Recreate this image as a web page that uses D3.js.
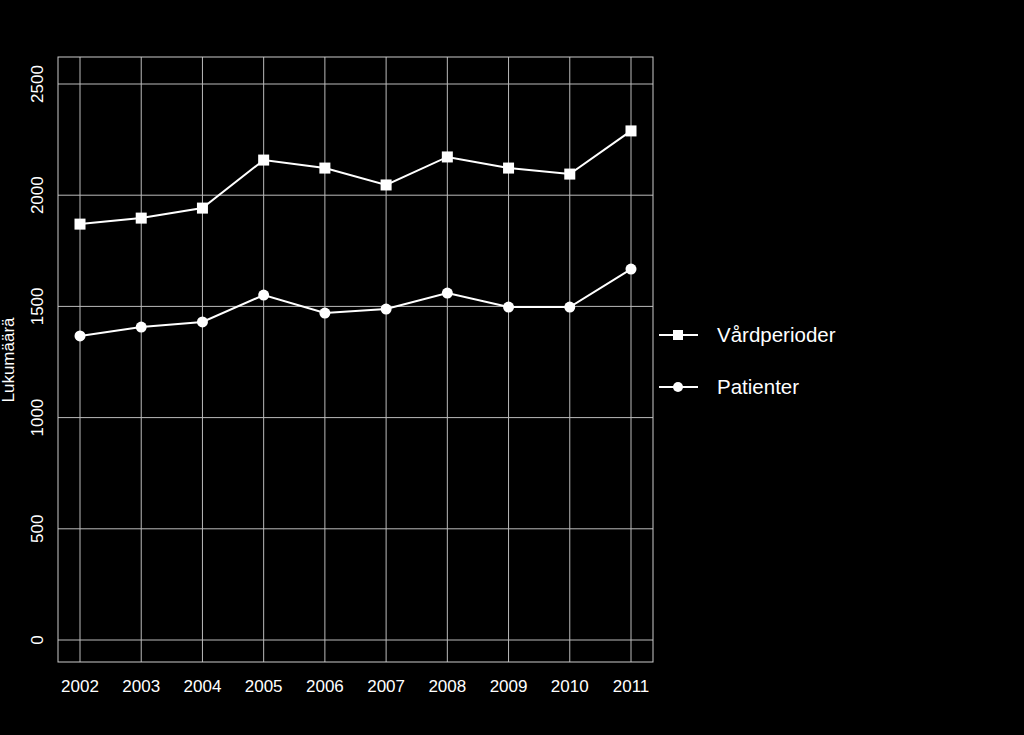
<!DOCTYPE html>
<html><head><meta charset="utf-8">
<script src="https://cdn.jsdelivr.net/npm/d3@7"></script>
<style>body{margin:0;background:#000}</style></head>
<body><svg id="c" width="1024" height="735"></svg>
<script>
const years=[2002,2003,2004,2005,2006,2007,2008,2009,2010,2011];
const vardperioder=[1870,1897,1942,2158,2122,2046,2172,2122,2095,2289];
const patienter=[1367,1407,1430,1551,1470,1488,1560,1497,1497,1668];
const yTicks=[0,500,1000,1500,2000,2500];
const svg=d3.select("#c");
svg.append("rect").attr("width",1024).attr("height",735).attr("fill","#000");
const L=58,R=653,T=57,B=662;
const x=d3.scaleLinear().domain([2002,2011]).range([80,631]);
const y=d3.scaleLinear().domain([0,2500]).range([640,84]);
const g=svg.append("g");
g.selectAll(".vg").data(years).join("line").attr("x1",d=>x(d)).attr("x2",d=>x(d)).attr("y1",T).attr("y2",B).attr("stroke","#bbb").attr("stroke-width",1);
g.selectAll(".hg").data(yTicks).join("line").attr("x1",L).attr("x2",R).attr("y1",d=>y(d)).attr("y2",d=>y(d)).attr("stroke","#bbb").attr("stroke-width",1);
g.append("rect").attr("x",L).attr("y",T).attr("width",R-L).attr("height",B-T).attr("fill","none").attr("stroke","#ccc");
const font="Liberation Sans, Arial, sans-serif";
g.selectAll(".xl").data(years).join("text").attr("x",d=>x(d)).attr("y",692).attr("text-anchor","middle").attr("fill","#fff").attr("font-family",font).attr("font-size",17).text(d=>d);
g.selectAll(".yl").data(yTicks).join("text").attr("transform",d=>`translate(43,${y(d)}) rotate(-90)`).attr("text-anchor","middle").attr("fill","#fff").attr("font-family",font).attr("font-size",17).text(d=>d);
svg.append("text").attr("transform","translate(14,360) rotate(-90)").attr("text-anchor","middle").attr("fill","#fff").attr("font-family",font).attr("font-size",17).text("Lukumäärä");
const line=d3.line().x((d,i)=>x(years[i])).y(d=>y(d));
[[vardperioder,"sq"],[patienter,"ci"]].forEach(([data,m])=>{
  svg.append("path").attr("d",line(data)).attr("fill","none").attr("stroke","#fff").attr("stroke-width",2);
  if(m==="sq") svg.selectAll(null).data(data).join("rect").attr("x",(d,i)=>x(years[i])-5.5).attr("y",d=>y(d)-5.5).attr("width",11).attr("height",11).attr("fill","#fff");
  else svg.selectAll(null).data(data).join("circle").attr("cx",(d,i)=>x(years[i])).attr("cy",d=>y(d)).attr("r",5.5).attr("fill","#fff");
});
const leg=[["Vårdperioder","sq",335],["Patienter","ci",387]];
leg.forEach(([t,m,yy])=>{
  svg.append("line").attr("x1",659).attr("x2",698).attr("y1",yy).attr("y2",yy).attr("stroke","#fff").attr("stroke-width",2);
  if(m==="sq") svg.append("rect").attr("x",673).attr("y",yy-5).attr("width",10).attr("height",10).attr("fill","#fff");
  else svg.append("circle").attr("cx",678).attr("cy",yy).attr("r",5).attr("fill","#fff");
  svg.append("text").attr("x",717).attr("y",yy+7).attr("fill","#fff").attr("font-family",font).attr("font-size",20.5).text(t);
});
</script></body></html>
